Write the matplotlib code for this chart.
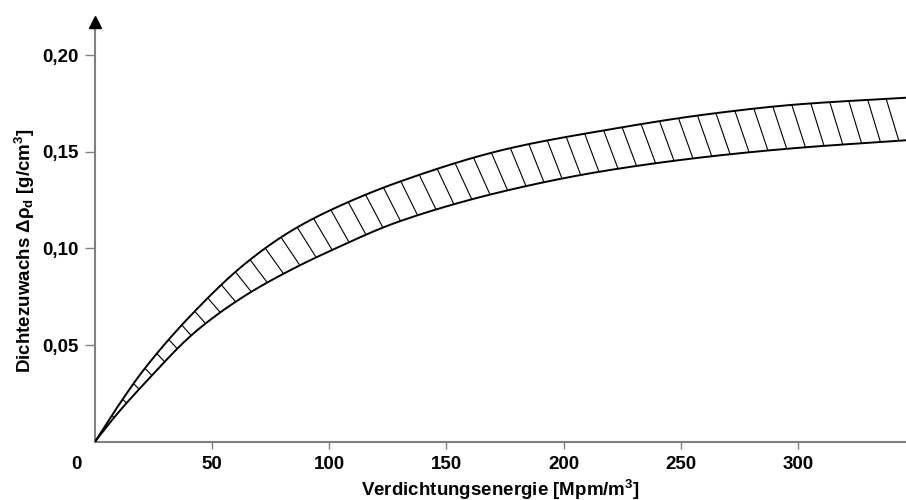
import numpy as np
import matplotlib
matplotlib.use('Agg')
import matplotlib.pyplot as plt
from matplotlib.collections import LineCollection
from matplotlib.transforms import ScaledTranslation

plt.rcParams['font.family'] = 'Liberation Sans'
plt.rcParams['font.weight'] = 'bold'
plt.rcParams['axes.labelweight'] = 'bold'
plt.rcParams['mathtext.fontset'] = 'custom'
plt.rcParams['mathtext.rm'] = 'Liberation Sans:bold'
plt.rcParams['mathtext.default'] = 'rm'

# ------------------------------------------------------------
# Daten
# ------------------------------------------------------------
energie = [0, 8.5, 21, 43, 64, 83, 100, 130, 176, 217, 262, 300, 347]
obere = [0, 0.016, 0.0375, 0.068, 0.092, 0.1085, 0.1195, 0.1345, 0.1515, 0.161, 0.1695, 0.1745, 0.178]
untere = [0, 0.013, 0.030, 0.057, 0.0755, 0.0885, 0.0985, 0.114, 0.130, 0.140, 0.1475, 0.152, 0.156]

x_ticks = [0, 50, 100, 150, 200, 250, 300]
y_ticks = [0.05, 0.10, 0.15, 0.20]
y_labels = ['0,05', '0,10', '0,15', '0,20']


def glatt(x, y, n=1500):
    # monotone kubische Kurve durch die Punkte (wie "geglättete Linie")
    x = np.asarray(x, float)
    y = np.asarray(y, float)
    h = np.diff(x)
    d = np.diff(y) / h
    m = np.zeros_like(y)
    for k in range(1, len(x) - 1):
        if d[k - 1] * d[k] > 0:
            w1 = 2 * h[k] + h[k - 1]
            w2 = h[k] + 2 * h[k - 1]
            m[k] = (w1 + w2) / (w1 / d[k - 1] + w2 / d[k])
    m[0] = d[0]
    m[-1] = d[-1]
    xs = np.linspace(x[0], x[-1], n)
    k = np.clip(np.searchsorted(x, xs) - 1, 0, len(x) - 2)
    t = (xs - x[k]) / h[k]
    ys = ((2 * t**3 - 3 * t**2 + 1) * y[k] + (t**3 - 2 * t**2 + t) * h[k] * m[k]
          + (-2 * t**3 + 3 * t**2) * y[k + 1] + (t**3 - t**2) * h[k] * m[k + 1])
    return xs, ys


# ------------------------------------------------------------
# Figur
# ------------------------------------------------------------
fig = plt.figure(figsize=(9.06, 5.0), dpi=100)
ax = fig.add_axes([95 / 906, 1 - 441.7 / 500, 1 - 95 / 906, (441.7 - 22) / 500])
ax.set_xlim(0, 346.2)
y_top = (441.7 - 22) / 1933
ax.set_ylim(0, y_top)

xu, yu = glatt(energie, obere)
xl, yl = glatt(energie, untere)
ax.plot(xu, yu, color='black', lw=1.4, zorder=3)
ax.plot(xl, yl, color='black', lw=1.4, zorder=3)

# --- Schraffur ---
pu = ax.transData.transform(np.column_stack([xu, yu]))
pl = ax.transData.transform(np.column_stack([xl, yl]))
s = np.concatenate([[0], np.cumsum(np.hypot(*np.diff(pu, axis=0).T))])

segs = []
for sk in np.arange(12, s[-1], 19):
    i = int(np.clip(np.searchsorted(s, sk), 1, len(xu) - 2))
    p = pu[i]
    tan = pu[i + 1] - pu[i - 1]
    theta = np.degrees(np.arctan2(tan[1], tan[0]))
    alpha = np.radians(75 - 0.57 * theta)
    dvec = np.array([np.cos(alpha), -np.sin(alpha)])
    rel = pl - p
    f = rel[:, 0] * dvec[1] - rel[:, 1] * dvec[0]
    j = np.argmax(f <= 0)
    if j == 0:
        continue
    a = f[j - 1] / (f[j - 1] - f[j])
    q = pl[j - 1] + a * (pl[j] - pl[j - 1])
    segs.append(ax.transData.inverted().transform(np.array([p, q])))

ax.add_collection(LineCollection(segs, colors='black', linewidths=0.8, zorder=2))

# --- Achsen ---
for side in ['top', 'right']:
    ax.spines[side].set_visible(False)
for side in ['left', 'bottom']:
    ax.spines[side].set_color('#808080')
    ax.spines[side].set_linewidth(1.5)

ax.set_xticks(x_ticks)
ax.set_xticklabels([str(v) for v in x_ticks])
ax.set_yticks(y_ticks)
ax.set_yticklabels(y_labels)
ax.tick_params(axis='x', direction='out', length=5, width=1, color='#808080',
               pad=5, labelsize=13.5)
ax.tick_params(axis='y', direction='out', length=7, width=1, color='#808080',
               pad=5, labelsize=13.5)

# "0" sitzt links neben der Ecke
ax.xaxis.get_major_ticks()[0].tick1line.set_visible(False)
lbl0 = ax.get_xticklabels()[0]
lbl0.set_transform(lbl0.get_transform() + ScaledTranslation(-0.19, 0, fig.dpi_scale_trans))

# Pfeil an der y-Achse
ax.plot([0], [y_top], marker='^', color='black', markersize=8, clip_on=False, zorder=5)

ax.set_xlabel('Verdichtungsenergie [Mpm/m$^3$]', fontsize=13.5, labelpad=3.5)
ax.set_ylabel('Dichtezuwachs Δρ$_d$ [g/cm$^3$]', fontsize=13.5)
ax.yaxis.set_label_coords(-0.072, 0.456)

fig.savefig('out.png', dpi=100)
